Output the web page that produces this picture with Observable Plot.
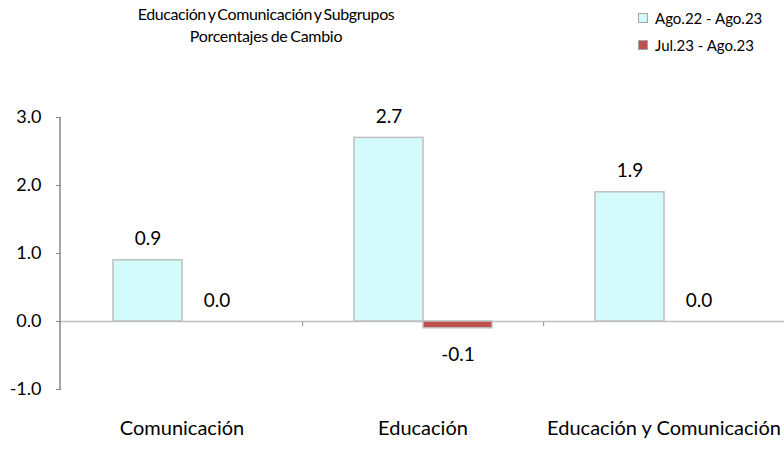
<!DOCTYPE html>
<html>
<head>
<meta charset="utf-8">
<script src="https://cdn.jsdelivr.net/npm/d3@7"></script>
<script src="https://cdn.jsdelivr.net/npm/@observablehq/plot@0.6"></script>
<style>
  body { margin: 0; background: #fff; font-family: Lato, "Liberation Sans", sans-serif; }
  #wrap { position: relative; width: 784px; height: 469px; }
  #title { position: absolute; left: 116px; width: 300px; top: 3px; text-align: center; font-size: 16px; line-height: 22px; color: #000; }
  #title .l1 { letter-spacing: -0.4px; word-spacing: -1.5px; }
  #title .l2 { letter-spacing: -0.3px; word-spacing: -1px; }
  #legend { position: absolute; left: 638px; top: 4px; font-size: 15px; color: #000; }
  #legend div { height: 27px; display: flex; align-items: center; }
  #legend span.sw { display: inline-block; width: 8px; height: 8px; margin-right: 7px; border: 1px solid #a6a6a6; }
  g[aria-label="y-axis tick"] path, g[aria-label="fx-axis tick"] path { stroke: #888; }
</style>
</head>
<body>
<div id="wrap">
  <div id="chart"></div>
  <div id="title"><span class="l1">Educación y Comunicación y Subgrupos</span><br><span class="l2">Porcentajes de Cambio</span></div>
  <div id="legend"></div>
</div>
<script>
const categories = ["Comunicación", "Educación", "Educación y Comunicación"];
const series = ["Ago.22 - Ago.23", "Jul.23 - Ago.23"];
const annualChange = [0.9, 2.7, 1.9];
const monthlyChange = [0.0, -0.1, 0.0];
const yTicks = [-1, 0, 1, 2, 3];
const colors = ["#d4fbfb", "#c0504d"];

const data = [];
categories.forEach((c, i) => {
  data.push({cat: c, series: series[0], value: annualChange[i]});
  data.push({cat: c, series: series[1], value: monthlyChange[i]});
});

const fmt = d => d.toFixed(1);
const step = (784 - 60) / categories.length;

const chart = Plot.plot({
  width: 784,
  height: 469,
  marginLeft: 60,
  marginRight: 0,
  marginTop: 117,
  marginBottom: 80,
  style: {fontSize: "18px", fontFamily: "Lato, 'Liberation Sans', sans-serif", color: "#000", background: "transparent"},
  fx: {domain: categories, padding: 0, label: null, axis: null},
  x: {domain: series, paddingInner: 0, paddingOuter: 0.74, axis: null},
  y: {domain: [-1, 3], axis: null},
  color: {domain: series, range: colors},
  marks: [
    Plot.axisY({ticks: yTicks, tickFormat: fmt, tickSize: 5, tickPadding: 15, label: null, fontSize: 18}),
    Plot.axisFx({anchor: "bottom", tickSize: 0, tickPadding: 31, label: null, fontSize: 20}),
    Plot.axisFx({anchor: "bottom", tickSize: 5, text: null, label: null, dx: step / 2, dy: -68}),
    Plot.ruleY([0], {stroke: "#bfbfbf", strokeWidth: 1.5}),
    Plot.barY(data, {fx: "cat", x: "series", y: "value", fill: "series", stroke: "#bfbfbf", strokeWidth: 1.5}),
    Plot.text(data.filter(d => d.value >= 0), {fx: "cat", x: "series", y: "value", text: d => fmt(d.value), dy: -21, fontSize: 19}),
    Plot.text(data.filter(d => d.value < 0), {fx: "cat", x: "series", y: "value", text: d => fmt(d.value), dy: 27, fontSize: 19})
  ]
});

document.getElementById("chart").appendChild(chart);

// left axis line, placed with the y scale
const yScale = chart.scale("y");
const ns = "http://www.w3.org/2000/svg";
const line = document.createElementNS(ns, "line");
line.setAttribute("x1", 60); line.setAttribute("x2", 60);
line.setAttribute("y1", yScale.apply(yTicks[yTicks.length - 1]));
line.setAttribute("y2", yScale.apply(yTicks[0]));
line.setAttribute("stroke", "#888");
line.setAttribute("stroke-width", 1.5);
chart.appendChild(line);

const legend = document.getElementById("legend");
series.forEach((s, i) => {
  const row = document.createElement("div");
  row.innerHTML = `<span class="sw" style="background:${colors[i]}"></span>${s}`;
  legend.appendChild(row);
});
</script>
</body>
</html>
